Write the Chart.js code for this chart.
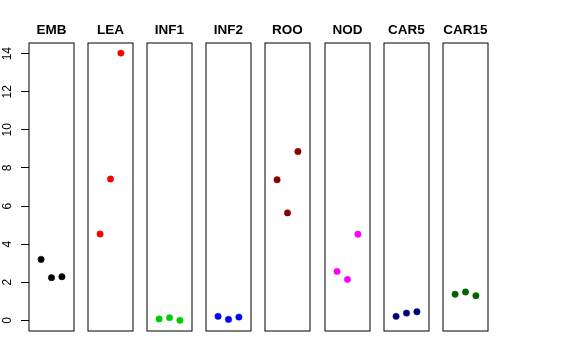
<!DOCTYPE html>
<html>
<head>
<meta charset="utf-8">
<script src="https://cdn.jsdelivr.net/npm/chart.js@4/dist/chart.umd.min.js"></script>
<style>
  html, body { margin: 0; padding: 0; background: #fff; }
  #wrap { position: relative; width: 576px; height: 360px; overflow: hidden; }
  .panel { position: absolute; top: 0; }
</style>
</head>
<body>
<div id="wrap"></div>
<script>
// ---- data ----
const categories = ['EMB', 'LEA', 'INF1', 'INF2', 'ROO', 'NOD', 'CAR5', 'CAR15'];
const xPositions = [1, 2, 3];
const valEMB   = [3.20, 2.24, 2.29];
const valLEA   = [4.53, 7.42, 14.03];
const valINF1  = [0.07, 0.14, 0.00];
const valINF2  = [0.21, 0.05, 0.17];
const valROO   = [7.38, 5.64, 8.86];
const valNOD   = [2.57, 2.15, 4.52];
const valCAR5  = [0.21, 0.38, 0.45];
const valCAR15 = [1.37, 1.49, 1.29];
const seriesValues = [valEMB, valLEA, valINF1, valINF2, valROO, valNOD, valCAR5, valCAR15];
const seriesColors = ['#000000', '#FF0000', '#00CD00', '#0000FF', '#8B0000', '#FF00FF', '#000080', '#006400'];
const yTickValues = [0, 2, 4, 6, 8, 10, 12, 14];

// ---- layout ----
const boxLefts = [29, 88, 147, 206, 265, 325, 384, 443];
const boxW = 45;
const side = 8;
const H = 360;
const FONT = "'Liberation Sans', Arial, Helvetica, sans-serif";
Chart.defaults.font.family = FONT;

const boxPlugin = {
  id: 'panelBox',
  afterDatasetsDraw(chart) {
    const a = chart.chartArea;
    const ctx = chart.ctx;
    ctx.save();
    ctx.strokeStyle = '#000';
    ctx.lineWidth = 1;
    ctx.strokeRect(a.left, a.top, a.right - a.left, a.bottom - a.top);
    ctx.restore();
  }
};

const wrap = document.getElementById('wrap');
categories.forEach((cat, i) => {
  const first = i === 0;
  const divLeft = first ? 0 : boxLefts[i] - side;
  const width = first ? boxLefts[0] + boxW + side : boxW + 2 * side;
  const div = document.createElement('div');
  div.className = 'panel';
  div.style.left = divLeft + 'px';
  div.style.width = width + 'px';
  div.style.height = H + 'px';
  const cv = document.createElement('canvas');
  cv.width = width; cv.height = H;
  cv.style.width = width + 'px'; cv.style.height = H + 'px';
  div.appendChild(cv);
  wrap.appendChild(div);

  new Chart(cv, {
    type: 'scatter',
    data: {
      datasets: [{
        label: cat,
        data: seriesValues[i].map((v, j) => ({ x: xPositions[j], y: v })),
        backgroundColor: seriesColors[i],
        borderColor: seriesColors[i],
        pointRadius: 3.2,
        pointBorderWidth: 0.5,
        clip: false
      }]
    },
    options: {
      responsive: false,
      animation: false,
      devicePixelRatio: 1,
      layout: { padding: { left: first ? 0 : side, right: side, top: 0, bottom: 29 } },
      plugins: {
        legend: { display: false },
        tooltip: { enabled: false },
        title: {
          display: true,
          text: cat,
          color: '#000',
          fullSize: !first,
          font: { size: 13.5, weight: 'bold', family: FONT, lineHeight: 1.2 },
          padding: { top: 22.2, bottom: 4.6 }
        }
      },
      scales: {
        x: {
          type: 'linear',
          display: false,
          min: -0.16,
          max: 4.16
        },
        y: {
          type: 'linear',
          display: first,
          min: -0.56,
          max: 14.56,
          afterBuildTicks: s => { s.ticks = yTickValues.map(v => ({ value: v })); },
          afterFit: s => { if (first) s.width = boxLefts[0]; },
          border: { display: false },
          grid: { drawOnChartArea: false, drawTicks: true, tickLength: 8, color: '#000', lineWidth: 1 },
          ticks: {
            color: '#000',
            font: { size: 12, family: FONT },
            minRotation: 90,
            maxRotation: 90,
            crossAlign: 'center',
            padding: 6.3,
            includeBounds: false
          }
        }
      }
    },
    plugins: [boxPlugin]
  });
});
</script>
</body>
</html>
